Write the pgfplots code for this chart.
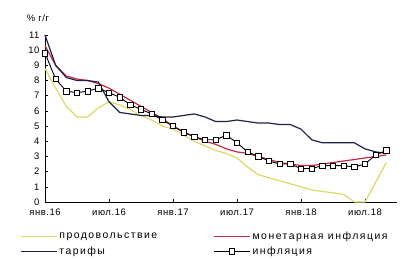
\documentclass[border=0pt]{standalone}
\usepackage{pgfplots}
\pgfplotsset{compat=1.18}
\usepackage{fontspec}
\setmainfont{Liberation Sans}
\newfontfamily\legfont[LetterSpace=14]{Liberation Sans}
\newfontfamily\tickfont[LetterSpace=6]{Liberation Sans}
\definecolor{food}{RGB}{222,216,100}
\definecolor{monet}{RGB}{200,40,70}
\definecolor{tarif}{RGB}{30,35,70}
\begin{document}
\begin{tikzpicture}
\useasboundingbox (0,0) rectangle (407bp,259bp);
\begin{axis}[
  at={(45bp,57bp)}, anchor=south west,
  scale only axis, width=352bp, height=167bp,
  xmin=0, xmax=33, ymin=0, ymax=11,
  axis lines=left, axis line style={-, black, line width=0.6bp},
  xtick={0,6,12,18,24,30},
  xticklabels={янв.16,июл.16,янв.17,июл.17,янв.18,июл.18},
  ytick={0,1,...,11},
  tick align=inside, major tick length=2.5bp, tick style={black, line width=0.5bp},
  ticklabel style={font=\tickfont\fontsize{9.5}{10}\selectfont},
  xticklabel style={yshift=-3bp},
  yticklabel style={xshift=-2bp},
  /pgf/number format/assume math mode=true,
  clip=false,
  legend columns=2,
  legend style={draw=none, fill=none, at={(-0.071,-0.165)}, anchor=north west,
    font=\legfont\fontsize{10.5}{11}\selectfont, inner sep=0pt, row sep=2bp,
    cells={anchor=west}},
  legend image code/.code={\draw[mark repeat=2,mark phase=2,#1] plot coordinates {(0bp,0bp) (18bp,0bp) (36bp,0bp)};},
]
\addplot[food, line width=1.2bp] coordinates {
(0,8.8)(1,7.5)(2,6.3)(3,5.6)(4,5.6)(5,6.2)(6,6.6)(7,6.4)(8,6.1)(9,5.7)(10,5.4)(11,5.0)
(12,4.8)(13,4.4)(14,4.0)(15,3.7)(16,3.4)(17,3.2)(18,2.9)(19,2.3)(20,1.8)(21,1.6)(22,1.4)(23,1.2)
(24,1.0)(25,0.8)(26,0.7)(27,0.6)(28,0.5)(29,0.0)(30,0.0)(31,1.3)(32,2.6)};
\addlegendentry{\makebox[152bp][l]{продовольствие}}
\addplot[monet, line width=1.2bp] coordinates {
(0,10.3)(1,9.0)(2,8.3)(3,8.1)(4,8.0)(5,7.8)(6,7.5)(7,7.1)(8,6.7)(9,6.3)(10,5.9)(11,5.5)
(12,5.0)(13,4.6)(14,4.3)(15,4.0)(16,3.8)(17,3.5)(18,3.3)(19,3.2)(20,3.0)(21,2.8)(22,2.6)(23,2.5)
(24,2.4)(25,2.4)(26,2.5)(27,2.6)(28,2.7)(29,2.8)(30,2.9)(31,3.0)(32,3.1)};
\addlegendentry{монетарная инфляция}
\addplot[tarif, line width=1.2bp] coordinates {
(0,11.0)(1,9.0)(2,8.2)(3,8.0)(4,8.0)(5,7.9)(6,6.6)(7,5.9)(8,5.8)(9,5.7)(10,5.7)(11,5.6)
(12,5.6)(13,5.7)(14,5.8)(15,5.6)(16,5.3)(17,5.3)(18,5.4)(19,5.3)(20,5.2)(21,5.2)(22,5.1)(23,5.1)
(24,4.8)(25,4.1)(26,3.9)(27,3.9)(28,3.9)(29,3.9)(30,3.5)(31,3.3)(32,3.2)};
\addlegendentry{\makebox[152bp][l]{тарифы}}
\addplot[black, line width=0.9bp, mark=square*, mark size=2.7bp, mark options={fill=white, line width=0.6bp}] coordinates {
(0,9.8)(1,8.1)(2,7.3)(3,7.2)(4,7.3)(5,7.5)(6,7.2)(7,6.9)(8,6.4)(9,6.1)(10,5.8)(11,5.4)
(12,5.0)(13,4.6)(14,4.3)(15,4.1)(16,4.1)(17,4.4)(18,3.9)(19,3.3)(20,3.0)(21,2.7)(22,2.5)(23,2.5)
(24,2.2)(25,2.2)(26,2.4)(27,2.4)(28,2.4)(29,2.3)(30,2.5)(31,3.1)(32,3.4)};
\addlegendentry{инфляция}
\node[font=\tickfont\fontsize{9.5}{10}\selectfont] at (rel axis cs:-0.02,1.10) {\% г/г};
\end{axis}
\end{tikzpicture}
\end{document}
